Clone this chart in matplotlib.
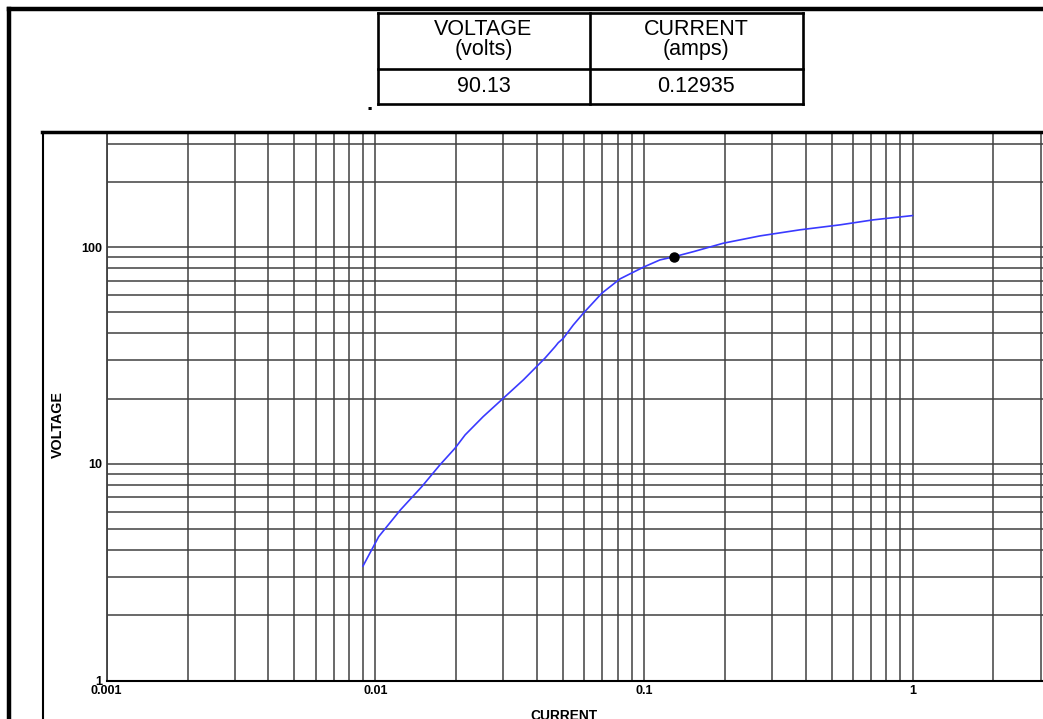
import matplotlib
matplotlib.use('Agg')
import matplotlib.pyplot as plt
from matplotlib.lines import Line2D
from matplotlib.ticker import FixedLocator, FixedFormatter, LogLocator, NullFormatter

# ---------------- data ----------------
current = [0.0090, 0.0103, 0.0124, 0.0149, 0.0174, 0.0198, 0.0216, 0.0252,
           0.0300, 0.0356, 0.0410, 0.0428, 0.0467, 0.0480, 0.0501, 0.0523,
           0.0546, 0.0595, 0.0697, 0.0815, 0.0995, 0.1148, 0.12935, 0.153,
           0.1975, 0.2705, 0.381, 0.537, 0.714, 1.0]
voltage = [3.38, 4.62, 6.13, 7.85, 9.89, 11.8, 13.6, 16.5,
           20.1, 24.4, 29.1, 30.7, 34.7, 36.2, 37.9, 40.7,
           43.7, 49.5, 61.2, 71.3, 80.7, 87.2, 90.13, 95.2,
           104.1, 112.5, 120.0, 126.5, 133.4, 139.6]
point_current = 0.12935
point_voltage = 90.13

x_tick_values = [0.001, 0.01, 0.1, 1]
x_tick_labels = ['0.001', '0.01', '0.1', '1']
y_tick_values = [1, 10, 100]
y_tick_labels = ['1', '10', '100']

table_headers = ['VOLTAGE\n(volts)', 'CURRENT\n(amps)']
table_values = ['90.13', '0.12935']

# ---------------- figure ----------------
W, H = 1043, 719
plt.rcParams['font.family'] = ['Liberation Sans', 'DejaVu Sans']
fig = plt.figure(figsize=(W / 100, H / 100), dpi=100)


def fx(px):
    return px / W


def fy(py):
    return 1 - py / H


ax_l, ax_r, ax_t, ax_b = 106.7, 1181.1, 133.0, 680.7
ax = fig.add_axes([fx(ax_l), fy(ax_b), (ax_r - ax_l) / W, (ax_b - ax_t) / H])
ax.set_xscale('log')
ax.set_yscale('log')
ax.set_xlim(0.001, 10)
ax.set_ylim(1, 10 ** ((ax_b - ax_t) / 216.85))

ax.xaxis.set_major_locator(FixedLocator(x_tick_values + [10]))
ax.xaxis.set_major_formatter(FixedFormatter(x_tick_labels + ['']))
ax.yaxis.set_major_locator(FixedLocator(y_tick_values))
ax.yaxis.set_major_formatter(FixedFormatter(y_tick_labels))
ax.xaxis.set_minor_locator(LogLocator(base=10, subs=range(2, 10), numticks=20))
ax.yaxis.set_minor_locator(LogLocator(base=10, subs=range(2, 10), numticks=20))
ax.xaxis.set_minor_formatter(NullFormatter())
ax.yaxis.set_minor_formatter(NullFormatter())

ax.tick_params(which='both', length=0)
ax.tick_params(axis='x', pad=3.0, labelsize=9)
ax.tick_params(axis='y', pad=3.3, labelsize=9)
for lab in ax.get_xticklabels() + ax.get_yticklabels():
    lab.set_fontweight('bold')

ax.grid(True, which='both', color='#404040', linewidth=1.1)
ax.set_axisbelow(True)

for s in ('top', 'right'):
    ax.spines[s].set_visible(False)
ax.spines['left'].set_color('#404040')
ax.spines['left'].set_linewidth(1.3)
ax.spines['bottom'].set_color('black')
ax.spines['bottom'].set_linewidth(1.5)

ax.plot(current, voltage, color='#3a3aff', linewidth=1.2, zorder=3)
ax.plot([point_current], [point_voltage], 'o', color='black', markersize=6.5, zorder=4)

# axis titles
fig.text(fx(58), fy(425), 'VOLTAGE', rotation=90, ha='center', va='center',
         fontsize=10.3, fontweight='bold')
fig.text(fx(563.5), fy(709), 'CURRENT', ha='center', va='top',
         fontsize=9.9, fontweight='bold')


# ---------------- frame lines ----------------
def hline(y, x0, x1, lw):
    fig.add_artist(Line2D([fx(x0), fx(x1)], [fy(y), fy(y)], transform=fig.transFigure,
                          color='black', linewidth=lw, solid_capstyle='projecting', zorder=10))


def vline(x, y0, y1, lw):
    fig.add_artist(Line2D([fx(x), fx(x)], [fy(y0), fy(y1)], transform=fig.transFigure,
                          color='black', linewidth=lw, solid_capstyle='projecting', zorder=10))


# outer frame
hline(8.5, 9, 1050, 3.2)
vline(9, 8.5, 725, 3.2)
# inner frame
hline(131.5, 42, 1050, 2.5)
vline(42.5, 131.5, 725, 1.5)

# ---------------- table ----------------
tx = [377.5, 589.5, 803]
ty = [12.5, 68.5, 103.5]
for y in ty:
    hline(y, tx[0], tx[-1], 1.9)
for x in tx:
    vline(x, ty[0], ty[-1], 1.9)

col_centers = [(tx[0] + tx[1]) / 2, (tx[1] + tx[2]) / 2]
for head, val, cx in zip(table_headers, table_values, col_centers):
    fig.text(fx(cx), fy(19), head, ha='center', va='top', multialignment='center',
             fontsize=15.5, linespacing=0.95)
    fig.text(fx(cx), fy(92), val, ha='center', va='baseline', fontsize=15.5)

fig.text(fx(370), fy(110), '.', ha='center', va='baseline', fontsize=16, fontweight='bold')

fig.savefig('out.png', dpi=100)
